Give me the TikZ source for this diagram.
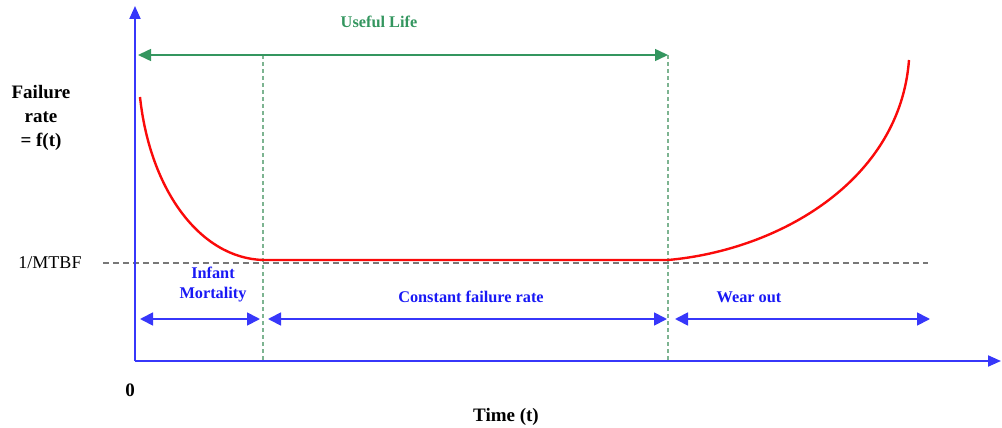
\documentclass[tikz,border=0pt]{standalone}
\usepackage{fontspec}
\setmainfont{Liberation Serif}
\usetikzlibrary{arrows.meta}
\definecolor{axisblue}{RGB}{55,55,250}
\definecolor{txtblue}{RGB}{25,25,245}
\definecolor{lifegreen}{RGB}{52,150,95}
\definecolor{guidegreen}{RGB}{125,180,145}
\definecolor{refgray}{RGB}{120,120,120}
\definecolor{curvered}{RGB}{250,10,10}
\tikzset{
  axisline/.style={draw=axisblue, line width=2pt, -{Triangle[length=13pt,width=11pt]}},
  spanarrow/.style={draw=axisblue, line width=1.8pt, {Triangle[length=13pt,width=13pt]}-{Triangle[length=13pt,width=13pt]}},
  lifearrow/.style={draw=lifegreen, line width=1.5pt, {Triangle[length=13pt,width=12pt]}-{Triangle[length=13pt,width=12pt]}},
  guide/.style={draw=guidegreen, line width=1.2pt, dash pattern=on 4pt off 3pt},
  refline/.style={draw=refgray, line width=1.2pt, dash pattern=on 6pt off 4pt},
  rate/.style={draw=curvered, line width=2.4pt},
  bigtxt/.style={font=\fontsize{19}{21}\selectfont\bfseries, text=black, align=center, inner sep=0pt},
  phasetxt/.style={font=\fontsize{16.3}{21}\selectfont\bfseries, text=txtblue, align=center, inner sep=0pt},
}
\begin{document}
\begin{tikzpicture}[x=1pt, y=-1pt]
\useasboundingbox (0,0) rectangle (1002,428);

% key points
\coordinate (origin) at (135,361);
\coordinate (ytop) at (135,6);
\coordinate (xend) at (1001,361);
\coordinate (start) at (140,97);
\coordinate (knee1) at (263,260);
\coordinate (knee2) at (668,260);
\coordinate (finish) at (909,60);
\coordinate (g1top) at (263,55);
\coordinate (g1bot) at (263,362);
\coordinate (g2top) at (668,55);
\coordinate (g2bot) at (668,362);
\coordinate (lifeL) at (138,55);
\coordinate (refL) at (103,263);
\coordinate (refR) at (928,263);
\coordinate (imL) at (140,319);
\coordinate (imR) at (260,319);
\coordinate (cfL) at (268,319);
\coordinate (cfR) at (667,319);
\coordinate (woL) at (675,319);
\coordinate (woR) at (930,319);

% guide lines
\draw[refline] (refL) -- (refR);
\draw[guide] (g1top) -- (g1bot);
\draw[guide] (g2top) -- (g2bot);

% axes
\draw[axisline] (origin) -- (ytop);
\draw[axisline] (origin) -- (xend);

% bathtub curve
\draw[rate] (start) .. controls (150,190) and (200,258) .. (knee1)
  -- (knee2) .. controls (780,250) and (900,180) .. (finish);

% useful life span
\draw[lifearrow] (lifeL) -- (g2top);
\node[phasetxt, text=lifegreen] (life) at (379,22) {Useful Life};

% phase spans
\draw[spanarrow] (imL) -- (imR);
\draw[spanarrow] (cfL) -- (cfR);
\draw[spanarrow] (woL) -- (woR);
\node[phasetxt] (infant) at (213,285) {Infant\\[-1pt]Mortality};
\node[phasetxt] (constant) at (471,297) {Constant failure rate};
\node[phasetxt] (wear) at (749,297) {Wear out};

% axis labels
\node[bigtxt] (ylabel) at (41,118) {Failure\\[3pt]rate\\[3pt]= f(t)};
\node[font=\fontsize{18}{21}\selectfont, inner sep=0pt] (mtbf) at (50,263) {1/MTBF};
\node[bigtxt] (zero) at (130,390) {0};
\node[bigtxt] (xlabel) at (506,417) {Time (t)};
\end{tikzpicture}
\end{document}
